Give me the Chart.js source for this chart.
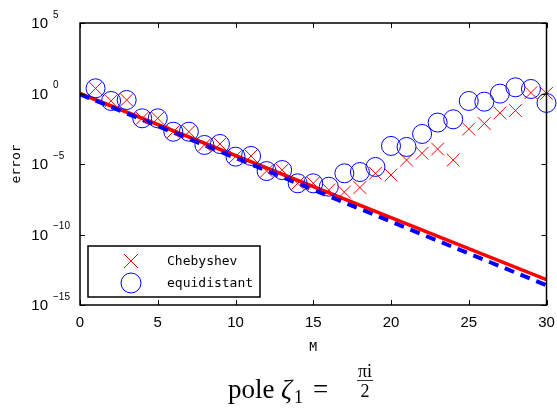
<!DOCTYPE html>
<html>
<head>
<meta charset="utf-8">
<script src="https://cdn.jsdelivr.net/npm/chart.js@4/dist/chart.umd.min.js"></script>
<style>
html, body { margin: 0; padding: 0; background: #fff; }
</style>
</head>
<body>
<canvas id="chart" width="557" height="410"></canvas>
<script>
// data
var M = [1, 2, 3, 4, 5, 6, 7, 8, 9, 10, 11, 12, 13, 14, 15,
         16, 17, 18, 19, 20, 21, 22, 23, 24, 25, 26, 27, 28, 29, 30];
var chebyshev = [2.3, 0.3, 0.35, 0.0174, 0.0174, 1.95e-3, 1.95e-3, 2.24e-4, 2.63e-4, 3.31e-5,
                 3.72e-5, 3.16e-6, 3.72e-6, 4.27e-7, 4.27e-7, 1.45e-7, 1.02e-7, 2.14e-7, 2.19e-6, 1.66e-6,
                 1.91e-5, 5.75e-5, 1.15e-4, 1.91e-5, 3.02e-3, 7.41e-3, 0.0417, 0.0617, 1.15, 1.02];
var equidistant = [2.34, 0.295, 0.347, 0.0174, 0.0174, 1.95e-3, 1.95e-3, 2.24e-4, 2.63e-4, 3.31e-5,
                   3.72e-5, 3.16e-6, 3.72e-6, 4.27e-7, 4.27e-7, 2.45e-7, 2.19e-6, 2.69e-6, 6.17e-6, 1.91e-4,
                   1.62e-4, 1.35e-3, 8.7e-3, 0.0148, 0.295, 0.263, 0.98, 2.75, 2.09, 0.214];
// straight rate lines (endpoints)
var rateM = [0, 30];
var chebyshevRate = [1, 6.3e-14];
var equidistantRate = [0.88, 2.5e-14];

var xTicks = [0, 5, 10, 15, 20, 25, 30];
var yTickExps = [5, 0, -5, -10, -15];
var yTickExpLabels = ["5", "0", "\u22125", "\u221210", "\u221215"];

function pts(xs, ys) {
    var out = [];
    for (var i = 0; i < xs.length; i++) out.push({x: xs[i], y: ys[i]});
    return out;
}

// frame, ticks, labels, legend and caption
var decorations = {
    id: "decorations",
    afterDraw: function(chart) {
        var ctx = chart.ctx;
        var a = chart.chartArea;
        var xs = chart.scales.x, ys = chart.scales.y;
        ctx.save();
        ctx.strokeStyle = "#000";
        ctx.lineWidth = 1.5;
        ctx.strokeRect(a.left, a.top, a.right - a.left, a.bottom - a.top);

        ctx.lineWidth = 1;
        ctx.beginPath();
        xTicks.forEach(function(v) {
            var px = Math.round(xs.getPixelForValue(v)) + 0.5;
            ctx.moveTo(px, a.bottom); ctx.lineTo(px, a.bottom - 5);
            ctx.moveTo(px, a.top); ctx.lineTo(px, a.top + 5);
        });
        yTickExps.forEach(function(e) {
            var py = Math.round(ys.getPixelForValue(Math.pow(10, e))) + 0.5;
            ctx.moveTo(a.left, py); ctx.lineTo(a.left + 5, py);
            ctx.moveTo(a.right, py); ctx.lineTo(a.right - 5, py);
        });
        ctx.stroke();

        ctx.fillStyle = "#000";
        ctx.font = "15px 'Liberation Sans'";
        ctx.textAlign = "center";
        ctx.textBaseline = "middle";
        xTicks.forEach(function(v) {
            ctx.fillText(String(v), xs.getPixelForValue(v), a.bottom + 18);
        });
        yTickExps.forEach(function(e, i) {
            var py = ys.getPixelForValue(Math.pow(10, e));
            ctx.font = "15px 'Liberation Sans'";
            ctx.textAlign = "right";
            ctx.fillText("10", 48, py + 1);
            ctx.font = "10px 'Liberation Sans'";
            ctx.textAlign = "left";
            ctx.fillText(yTickExpLabels[i], 53, py - 8);
        });

        // axis titles
        ctx.font = "13px 'DejaVu Sans Mono'";
        ctx.textAlign = "center";
        ctx.fillText("M", (a.left + a.right) / 2, 348);
        ctx.save();
        ctx.translate(17, (a.top + a.bottom) / 2);
        ctx.rotate(-Math.PI / 2);
        ctx.fillText("error", 0, 0);
        ctx.restore();

        // legend
        ctx.fillStyle = "#fff";
        ctx.fillRect(88, 246, 172, 51);
        ctx.lineWidth = 1.5;
        ctx.strokeRect(88, 246, 172, 51);
        ctx.lineWidth = 1;
        ctx.strokeStyle = "#ff0000";
        ctx.beginPath();
        ctx.moveTo(124, 254); ctx.lineTo(138, 268);
        ctx.moveTo(138, 254); ctx.lineTo(124, 268);
        ctx.stroke();
        ctx.strokeStyle = "#0000ff";
        ctx.beginPath();
        ctx.arc(131, 283, 10, 0, Math.PI * 2);
        ctx.stroke();
        ctx.fillStyle = "#000";
        ctx.font = "13px 'DejaVu Sans Mono'";
        ctx.textAlign = "left";
        ctx.fillText("Chebyshev", 167, 262);
        ctx.fillText("equidistant", 167, 284);

        // caption
        ctx.textBaseline = "alphabetic";
        ctx.font = "27px 'Liberation Serif'";
        ctx.fillText("pole", 228, 398);
        ctx.font = "italic 27px 'Liberation Serif'";
        ctx.fillText("\u03b6", 281, 398);
        ctx.font = "18px 'Liberation Serif'";
        ctx.fillText("1", 294, 403);
        ctx.font = "27px 'Liberation Serif'";
        ctx.fillText("=", 313, 398);
        ctx.font = "18px 'Liberation Serif'";
        ctx.textAlign = "center";
        ctx.fillText("\u03c0i", 365, 377);
        ctx.fillText("2", 365, 397);
        ctx.fillRect(357, 380, 16, 0.8);
        ctx.restore();
    }
};

var canvas = document.getElementById("chart");
var chart = new Chart(canvas.getContext("2d"), {
    type: "scatter",
    data: {
        datasets: [{
            label: "equidistant rate",
            data: pts(rateM, equidistantRate),
            showLine: true,
            pointRadius: 0,
            borderColor: "#0000ff",
            borderWidth: 4,
            borderDash: [10, 7],
            order: 3
        }, {
            label: "Chebyshev rate",
            data: pts(rateM, chebyshevRate),
            showLine: true,
            pointRadius: 0,
            borderColor: "#ff0000",
            borderWidth: 3.5,
            order: 4
        }, {
            label: "Chebyshev",
            data: pts(M, chebyshev),
            pointStyle: "crossRot",
            pointRadius: 9,
            borderColor: "#ff0000",
            borderWidth: 1,
            clip: false,
            order: 2
        }, {
            label: "equidistant",
            data: pts(M, equidistant),
            pointStyle: "circle",
            pointRadius: 9.5,
            borderColor: "#0000ff",
            backgroundColor: "rgba(0,0,0,0)",
            borderWidth: 1,
            clip: false,
            order: 1
        }]
    },
    options: {
        responsive: false,
        animation: false,
        events: [],
        layout: { padding: { left: 80, right: 8, top: 23, bottom: 105 } },
        plugins: { legend: { display: false }, tooltip: { enabled: false } },
        scales: {
            x: { type: "linear", min: 0, max: 30, display: false },
            y: { type: "logarithmic", min: 1e-15, max: 1e5, display: false }
        }
    },
    plugins: [decorations]
});
</script>
</body>
</html>
